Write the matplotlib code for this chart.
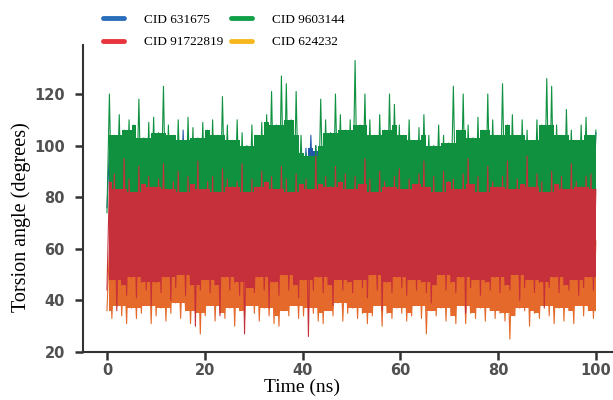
import numpy as np
import pandas as pd
import matplotlib
matplotlib.use("Agg")
import matplotlib.pyplot as plt
from matplotlib.lines import Line2D

# one value per ns: upper peaks and lower troughs of each torsion trace
labels = ["CID 631675", "CID 9603144", "CID 91722819", "CID 624232"]

blue_hi = [98, 95, 97, 94, 99, 96, 98, 95, 97, 99,
           94, 96, 98, 95, 97, 106, 95, 98, 94, 97,
           99, 95, 97, 94, 98, 93, 96, 95, 92, 98,
           95, 97, 94, 99, 96, 98, 95, 97, 94, 96,
           99, 104, 100, 98, 95, 97, 94, 99, 96, 98,
           95, 98, 96, 94, 101, 105, 97, 95, 99, 96,
           94, 98, 95, 97, 99, 94, 96, 98, 100, 95,
           96, 94, 98, 95, 99, 96, 94, 97, 95, 98,
           97, 95, 98, 94, 96, 99, 95, 97, 94, 96,
           95, 98, 96, 94, 97, 99, 95, 96, 98, 105]
blue_lo = [76, 72, 78, 74, 77, 73, 79, 75, 72, 77,
           74, 78, 73, 76, 79, 72, 75, 77, 74, 78,
           73, 76, 79, 74, 72, 77, 75, 78, 73, 76,
           79, 74, 77, 72, 75, 78, 73, 76, 74, 79,
           72, 77, 75, 73, 78, 76, 74, 79, 72, 75,
           77, 73, 78, 76, 74, 79, 72, 75, 77, 73,
           78, 74, 76, 79, 72, 75, 77, 73, 78, 74,
           76, 79, 72, 75, 77, 73, 78, 74, 76, 79,
           72, 75, 77, 73, 78, 74, 76, 79, 72, 75,
           77, 73, 78, 74, 76, 79, 72, 75, 77, 74]

green_hi = [120, 104, 112, 106, 110, 108, 118, 103, 109, 111,
            105, 123, 108, 104, 110, 102, 111, 107, 103, 109,
            106, 110, 104, 119, 108, 102, 110, 105, 100, 108,
            104, 109, 112, 121, 108, 127, 124, 110, 121, 104,
            97, 96, 100, 118, 110, 105, 120, 112, 106, 110,
            133, 108, 120, 110, 104, 112, 106, 120, 116, 108,
            104, 110, 102, 107, 112, 104, 100, 108, 104, 101,
            123, 106, 120, 108, 103, 111, 106, 120, 110, 104,
            124, 108, 112, 104, 110, 106, 102, 110, 108, 126,
            123, 108, 104, 114, 106, 102, 108, 111, 104, 106]
green_lo = [74, 70, 77, 72, 76, 69, 78, 73, 71, 76,
            72, 77, 70, 75, 73, 78, 71, 76, 69, 74,
            77, 72, 75, 70, 78, 73, 76, 71, 74, 77,
            70, 75, 72, 78, 73, 71, 76, 74, 69, 77,
            75, 72, 78, 71, 76, 73, 70, 77, 74, 72,
            76, 71, 78, 73, 75, 70, 77, 72, 74, 76,
            71, 78, 73, 75, 70, 77, 72, 76, 74, 71,
            78, 73, 75, 70, 77, 72, 76, 71, 74, 78,
            73, 75, 70, 77, 72, 76, 71, 74, 78, 73,
            75, 70, 77, 72, 76, 71, 74, 78, 73, 76]

red_hi = [86, 89, 83, 95, 87, 82, 92, 85, 88, 84,
          87, 93, 83, 86, 90, 82, 88, 85, 94, 83,
          86, 88, 82, 91, 87, 84, 86, 93, 82, 87,
          84, 90, 86, 88, 83, 92, 87, 82, 89, 85,
          87, 83, 96, 85, 88, 84, 92, 86, 89, 83,
          88, 85, 95, 87, 82, 90, 86, 84, 88, 91,
          83, 87, 85, 89, 94, 84, 88, 82, 90, 86,
          87, 83, 89, 95, 85, 88, 82, 92, 86, 84,
          88, 94, 83, 87, 85, 96, 84, 89, 86, 82,
          90, 85, 88, 83, 93, 86, 84, 88, 89, 83]
red_lo = [44, 48, 36, 46, 42, 49, 41, 47, 44, 38,
          47, 43, 49, 40, 45, 50, 42, 46, 30, 44,
          48, 43, 46, 34, 49, 44, 47, 42, 27, 45,
          43, 49, 44, 37, 47, 42, 50, 44, 46, 41,
          48, 26, 44, 49, 43, 46, 38, 48, 44, 47,
          43, 48, 45, 41, 50, 44, 36, 47, 43, 49,
          45, 42, 48, 44, 47, 43, 39, 46, 50, 44,
          47, 43, 49, 35, 45, 48, 42, 47, 44, 49,
          43, 46, 44, 50, 40, 45, 48, 43, 47, 37,
          45, 49, 43, 46, 44, 48, 42, 45, 49, 44]

orange_hi = [60, 56, 64, 58, 62, 57, 65, 59, 61, 63,
             57, 62, 59, 66, 58, 61, 64, 56, 60, 63,
             59, 65, 57, 61, 62, 58, 64, 60, 56, 63,
             61, 57, 65, 59, 62, 58, 64, 60, 57, 63,
             59, 62, 56, 65, 61, 58, 63, 60, 57, 64,
             62, 58, 61, 65, 57, 60, 63, 59, 62, 56,
             64, 60, 58, 63, 61, 57, 65, 59, 62, 60,
             57, 63, 61, 58, 64, 60, 56, 62, 59, 65,
             61, 57, 63, 60, 58, 64, 62, 59, 56, 63,
             60, 58, 65, 61, 57, 62, 64, 59, 61, 63]
orange_lo = [36, 33, 38, 34, 31, 37, 33, 35, 38, 31,
             34, 37, 32, 35, 39, 33, 36, 31, 35, 27,
             34, 38, 32, 35, 33, 37, 30, 36, 33, 38,
             35, 32, 37, 34, 31, 30, 36, 34, 38, 33,
             34, 37, 35, 32, 31, 36, 34, 39, 32, 35,
             37, 33, 35, 31, 34, 38, 30, 35, 33, 37,
             35, 32, 34, 38, 33, 27, 36, 34, 37, 32,
             34, 31, 38, 31, 35, 33, 37, 32, 36, 33,
             35, 32, 25, 34, 37, 36, 30, 35, 33, 38,
             34, 31, 37, 32, 36, 31, 38, 34, 36, 33]

line_colors = ["#2358a8", "#0f9140", "#c6303a", "#e4692a"]
legend_colors = ["#2a6ebb", "#10a048", "#e8353d", "#f6b71d"]


def draw_trace(ax, lo, hi, color, z):
    """Dense trace: solid stepped core between neighbour extremes plus thin spikes."""
    lo = np.asarray(lo, dtype=float)
    hi = np.asarray(hi, dtype=float)
    n = len(hi)
    t = np.linspace(0, 100, 2 * n)
    y = np.empty(2 * n)
    y[0::2] = lo
    y[1::2] = hi
    top = pd.Series(hi).rolling(3, center=True, min_periods=1).min().to_numpy()
    bottom = pd.Series(lo).rolling(3, center=True, min_periods=1).max().to_numpy()
    ax.plot(t, y, color=color, lw=0.8, zorder=z)
    ax.fill_between(t[1::2], bottom, top, step="mid", color=color, lw=0, zorder=z + 0.5)


fig = plt.figure(figsize=(6.13, 4), dpi=100)
ax = fig.add_axes([0.1354, 0.12, 0.8646, 0.7675])

# drawing order: blue, green, orange under red
draw_trace(ax, blue_lo, blue_hi, line_colors[0], 2)
draw_trace(ax, green_lo, green_hi, line_colors[1], 3)
draw_trace(ax, orange_lo, orange_hi, line_colors[3], 4)
draw_trace(ax, red_lo, red_hi, line_colors[2], 5)

ax.set_xlim(-4.9, 103.5)
ax.set_ylim(20, 139)
ax.set_xticks([0, 20, 40, 60, 80, 100])
ax.set_yticks([20, 40, 60, 80, 100, 120])

for side in ["top", "right"]:
    ax.spines[side].set_visible(False)
for side in ["left", "bottom"]:
    ax.spines[side].set_color("#333333")
    ax.spines[side].set_linewidth(1.5)
    ax.spines[side].set_zorder(10)

ax.tick_params(axis="both", colors="#333333", width=1.8, length=6,
               labelsize=10.5, labelcolor="#505050")
ax.tick_params(axis="x", pad=2)
ax.tick_params(axis="y", pad=7)
for lab in ax.get_xticklabels() + ax.get_yticklabels():
    lab.set_fontweight("bold")

serif = ["Liberation Serif", "DejaVu Serif"]
ax.set_xlabel("Time (ns)", fontsize=14, family=serif)
ax.set_ylabel("Torsion angle (degrees)", fontsize=14.5, family=serif)
ax.xaxis.set_label_coords(0.413, -0.086)
ax.yaxis.set_label_coords(-0.098, 0.44)

handles = [Line2D([], [], color=legend_colors[i], lw=3.5, solid_capstyle="round")
           for i in range(4)]
order = [0, 2, 1, 3]
fig.legend([handles[i] for i in order], [labels[i] for i in order],
           ncol=2, loc="upper left", bbox_to_anchor=(0.148, 0.995),
           frameon=False, prop={"family": serif, "size": 9.5},
           handlelength=1.6, handletextpad=1.5, columnspacing=0.6,
           labelspacing=0.75)

fig.savefig("out.png", dpi=100)
